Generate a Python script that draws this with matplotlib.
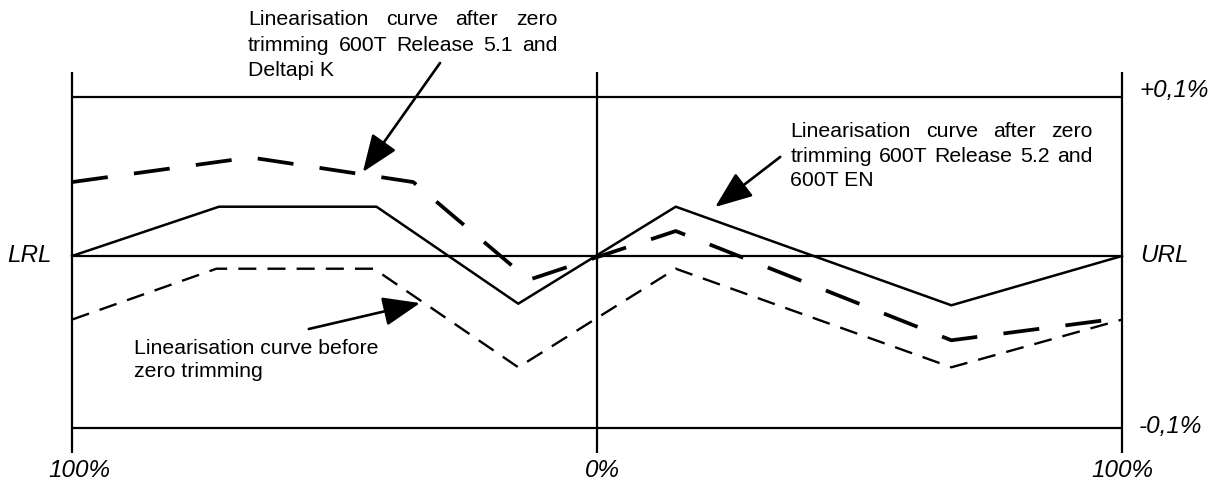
import numpy as np
import matplotlib
matplotlib.use('Agg')
import matplotlib.pyplot as plt

# x: percent of span (LRL side = -100, centre = 0, URL side = 100)
# y: deviation in %
x_after52 = [-100, -72, -42, -15, 15, 67.5, 100]
y_after52 = [0, 0.031, 0.031, -0.030, 0.031, -0.031, 0]

x_before = [-100, -72.5, -42.5, -15, 15, 67.5, 100]
y_before = [-0.040, -0.008, -0.008, -0.070, -0.008, -0.070, -0.040]

x_after51 = [-100, -66, -35, -13, 15, 67.5, 100]
y_after51 = [0.0465, 0.062, 0.0465, -0.015, 0.0157, -0.053, -0.039]

h_levels = [0.1, 0.0, -0.108]
v_levels = [-100, 0, 100]
x_labels = ['100%', '0%', '100%']

txt_51 = ['Linearisation curve after zero', 'trimming 600T Release 5.1 and', 'Deltapi K']
txt_52 = ['Linearisation curve after zero', 'trimming 600T Release 5.2 and', '600T EN']
txt_before = ['Linearisation curve before', 'zero trimming']

plt.rcParams['font.family'] = ['Liberation Sans', 'DejaVu Sans']
plt.rcParams['lines.scale_dashes'] = False

PXX = 5.25     # pixels per x unit
PXY = 1590.0   # pixels per y unit

fig = plt.figure(figsize=(12.2, 4.84), dpi=100)
ax = fig.add_axes([0, 0, 1, 1])
ax.set_xlim(-597 / PXX, (1220 - 597) / PXX)
ax.set_ylim(-(484 - 256) / PXY, 256 / PXY)
ax.axis('off')

# frame lines
ax.hlines(h_levels, -100, 100, colors='k', lw=1.6)
ax.vlines(v_levels, -0.124, 0.1157, colors='k', lw=1.6)

# curves
ax.plot(x_after52, y_after52, '-', color='k', lw=1.8)
ax.plot(x_before, y_before, '-', color='k', lw=1.7, dashes=(13, 8))
ax.plot(x_after51, y_after51, '-', color='k', lw=2.7, dashes=(26, 19))

# axis labels
lab = dict(fontsize=17.5, style='italic', color='k')
ax.text(-108, 0, 'LRL', ha='center', va='center', **lab)
ax.text(103.4, 0, 'URL', ha='left', va='center', **lab)
ax.text(103.4, 0.1038, '+0,1%', ha='left', va='center', **lab)
ax.text(103.2, -0.1075, '-0,1%', ha='left', va='center', **lab)
for xv, s in zip([-98.5, 1.1, 100], x_labels):
    ax.text(xv, -0.1352, s, ha='center', va='center', **lab)

# annotation text, justified like the original
renderer = fig.canvas.get_renderer()
FS = 15.3

def block(lines, x0, x1, ys, njust):
    for i, (line, y) in enumerate(zip(lines, ys)):
        words = line.split()
        if i >= njust or len(words) < 2:
            ax.text(x0, y, line, ha='left', va='baseline', fontsize=FS)
            continue
        ts = [ax.text(x0, y, w, ha='left', va='baseline', fontsize=FS) for w in words]
        widths = [t.get_window_extent(renderer).width / PXX for t in ts]
        gap = (x1 - x0 - sum(widths)) / (len(words) - 1)
        xc = x0
        for t, w in zip(ts, widths):
            t.set_x(xc)
            xc += w + gap

block(txt_51, -66.5, -7.6, [0.1450, 0.1292, 0.1135], 2)
block(txt_52, 36.8, 94.3, [0.0748, 0.0594, 0.0440], 2)
block(txt_before, -88.2, None, [-0.0616, -0.0761], 0)

# arrows
arr = dict(arrowstyle='-|>,head_length=1.15,head_width=0.45', color='k', lw=1.9,
           mutation_scale=20, shrinkA=0, shrinkB=0)
ax.annotate('', xy=(-44.6, 0.0528), xytext=(-29.9, 0.1214), arrowprops=arr)
ax.annotate('', xy=(22.5, 0.0308), xytext=(34.9, 0.0623), arrowprops=arr)
ax.annotate('', xy=(-33.7, -0.0296), xytext=(-54.9, -0.0459), arrowprops=arr)

fig.savefig('out.png', dpi=100)
